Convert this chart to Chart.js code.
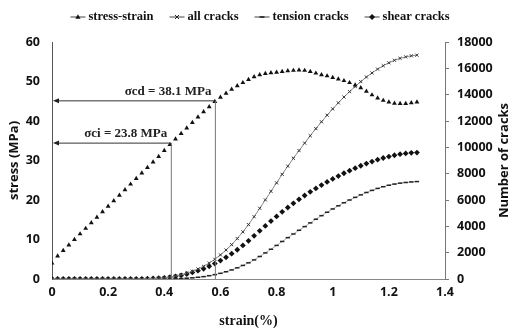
<!DOCTYPE html>
<html>
<head>
<meta charset="utf-8">
<script src="https://cdn.jsdelivr.net/npm/chart.js@4"></script>
<style>
  body { margin: 0; background: #fff; }
</style>
</head>
<body>
<canvas id="crack-chart" width="511" height="330"></canvas>
<script>
// strain (%) sampled every 0.02
var strain = [0, 0.02, 0.04, 0.06, 0.08, 0.10, 0.12, 0.14, 0.16, 0.18,
  0.20, 0.22, 0.24, 0.26, 0.28, 0.30, 0.32, 0.34, 0.36, 0.38,
  0.40, 0.42, 0.44, 0.46, 0.48, 0.50, 0.52, 0.54, 0.56, 0.58,
  0.60, 0.62, 0.64, 0.66, 0.68, 0.70, 0.72, 0.74, 0.76, 0.78,
  0.80, 0.82, 0.84, 0.86, 0.88, 0.90, 0.92, 0.94, 0.96, 0.98,
  1.00, 1.02, 1.04, 1.06, 1.08, 1.10, 1.12, 1.14, 1.16, 1.18,
  1.20, 1.22, 1.24, 1.26, 1.28, 1.30];

// stress (MPa)
var stress = [4.0, 5.8, 7.2, 8.6, 10.0, 11.4, 12.8, 14.2, 15.6, 17.0,
  18.4, 19.8, 21.2, 22.6, 24.0, 25.4, 26.8, 28.2, 29.6, 31.0,
  32.5, 34.0, 35.4, 36.8, 38.2, 39.6, 41.0, 42.3, 43.6, 44.9,
  46.0, 47.0, 48.0, 48.9, 49.7, 50.5, 51.2, 51.7, 52.0, 52.2,
  52.3, 52.5, 52.7, 52.8, 52.9, 52.8, 52.5, 52.1, 51.7, 51.4,
  51.0, 50.6, 50.2, 49.7, 49.1, 48.4, 47.5, 46.6, 45.8, 45.2,
  44.8, 44.5, 44.4, 44.4, 44.6, 44.8];

// number of cracks
var allCracks = [0, 0, 0, 0, 0, 0, 0, 0, 0, 0,
  0, 0, 0, 0, 0, 0, 10, 20, 40, 60,
  90, 150, 220, 320, 440, 590, 760, 960, 1210, 1500,
  1830, 2200, 2610, 3070, 3580, 4130, 4730, 5370, 6010, 6660,
  7300, 7950, 8570, 9170, 9750, 10320, 10880, 11420, 11940, 12440,
  12920, 13380, 13820, 14230, 14620, 14990, 15340, 15650, 15940, 16200,
  16420, 16610, 16760, 16870, 16950, 17000];

var tensionCracks = [0, 0, 0, 0, 0, 0, 0, 0, 0, 0,
  0, 0, 0, 0, 0, 0, 0, 0, 0, 0,
  0, 10, 20, 40, 60, 90, 130, 180, 250, 330,
  430, 550, 690, 850, 1030, 1230, 1450, 1710, 1980, 2260,
  2550, 2850, 3140, 3420, 3700, 3980, 4260, 4540, 4810, 5070,
  5320, 5560, 5790, 6000, 6200, 6390, 6570, 6730, 6880, 7010,
  7120, 7210, 7280, 7330, 7370, 7400];

var shearCracks = [0, 0, 0, 0, 0, 0, 0, 0, 0, 0,
  0, 0, 0, 0, 0, 0, 10, 20, 40, 60,
  90, 140, 200, 280, 380, 500, 630, 780, 960, 1170,
  1400, 1650, 1920, 2220, 2550, 2900, 3280, 3660, 4030, 4400,
  4750, 5100, 5430, 5750, 6050, 6340, 6620, 6880, 7130, 7370,
  7600, 7820, 8030, 8230, 8420, 8600, 8770, 8920, 9060, 9190,
  9300, 9400, 9480, 9540, 9580, 9600];

// crack initiation / crack damage thresholds
var markStrain = [0.425, 0.582];
var markStress = [34.4, 45.1];
var markLabels = ['σci = 23.8 MPa', 'σcd = 38.1 MPa'];

var legendNames = ['stress-strain', 'all cracks', 'tension cracks', 'shear cracks'];

function pts(values) {
  return strain.map(function(s, i) { return { x: s, y: values[i] }; });
}

var tickFont = { family: 'Open Sans', size: 12.5, weight: 'bold' };
var serif = 'bold 13px "Liberation Serif"';

function drawMarker(ctx, style, x, y) {
  ctx.save();
  ctx.fillStyle = '#111';
  ctx.strokeStyle = '#222';
  ctx.lineWidth = 1;
  ctx.beginPath();
  if (style === 'triangle') {
    ctx.moveTo(x, y - 2.8); ctx.lineTo(x + 2.6, y + 1.8); ctx.lineTo(x - 2.6, y + 1.8);
    ctx.closePath(); ctx.fill();
  } else if (style === 'crossRot') {
    ctx.moveTo(x - 2, y - 2); ctx.lineTo(x + 2, y + 2);
    ctx.moveTo(x + 2, y - 2); ctx.lineTo(x - 2, y + 2);
    ctx.stroke();
  } else if (style === 'line') {
    ctx.lineWidth = 1.6;
    ctx.moveTo(x - 2.5, y); ctx.lineTo(x + 2.5, y);
    ctx.stroke();
  } else {
    ctx.moveTo(x, y - 3); ctx.lineTo(x + 3, y); ctx.lineTo(x, y + 3); ctx.lineTo(x - 3, y);
    ctx.closePath(); ctx.fill();
  }
  ctx.restore();
}

var extras = {
  id: 'extras',
  afterDraw: function(chart) {
    var ctx = chart.ctx;
    var xs = chart.scales.x, ys = chart.scales.y;
    var area = chart.chartArea;

    // threshold lines and arrows
    for (var i = 0; i < markStrain.length; i++) {
      var px = xs.getPixelForValue(markStrain[i]);
      var py = ys.getPixelForValue(markStress[i]);
      ctx.save();
      ctx.strokeStyle = '#777';
      ctx.lineWidth = 1;
      ctx.beginPath();
      ctx.moveTo(px, py); ctx.lineTo(px, area.bottom);
      ctx.stroke();
      ctx.strokeStyle = '#333';
      ctx.beginPath();
      ctx.moveTo(px, py); ctx.lineTo(area.left + 4, py);
      ctx.stroke();
      ctx.fillStyle = '#222';
      ctx.beginPath();
      ctx.moveTo(area.left + 1, py);
      ctx.lineTo(area.left + 7, py - 2.5);
      ctx.lineTo(area.left + 7, py + 2.5);
      ctx.closePath();
      ctx.fill();
      ctx.font = serif;
      ctx.textAlign = 'right';
      ctx.textBaseline = 'alphabetic';
      ctx.fillText(markLabels[i], px - 4, py - 6);
      ctx.restore();
    }

    // legend
    var styles = ['triangle', 'crossRot', 'line', 'rectRot'];
    ctx.save();
    ctx.font = 'bold 12.5px "Liberation Serif"';
    var iconW = 15, gap = 3, itemGap = 16;
    var total = 0;
    legendNames.forEach(function(n, k) {
      total += iconW + gap + ctx.measureText(n).width + (k < legendNames.length - 1 ? itemGap : 0);
    });
    var lx = 260 - total / 2, ly = 17;
    legendNames.forEach(function(n, k) {
      ctx.strokeStyle = '#444';
      ctx.lineWidth = 1;
      ctx.beginPath();
      ctx.moveTo(lx, ly); ctx.lineTo(lx + iconW, ly);
      ctx.stroke();
      drawMarker(ctx, styles[k], lx + iconW / 2, ly);
      ctx.fillStyle = '#111';
      ctx.textAlign = 'left';
      ctx.textBaseline = 'middle';
      ctx.fillText(n, lx + iconW + gap, ly);
      lx += iconW + gap + ctx.measureText(n).width + itemGap;
    });
    ctx.restore();

    // right axis title, reading bottom to top
    ctx.save();
    ctx.translate(504, (area.top + area.bottom) / 2);
    ctx.rotate(-Math.PI / 2);
    ctx.font = 'bold 13px "Open Sans"';
    ctx.fillStyle = '#111';
    ctx.textAlign = 'center';
    ctx.textBaseline = 'middle';
    ctx.fillText('Number of cracks', 0, 0);
    ctx.restore();
  }
};

var ctx = document.getElementById('crack-chart').getContext('2d');
var myChart = new Chart(ctx, {
  type: 'scatter',
  data: {
    datasets: [{
      label: 'stress-strain',
      data: pts(stress),
      yAxisID: 'y',
      showLine: false,
      pointStyle: 'triangle',
      pointRadius: 2.8,
      pointBackgroundColor: '#111',
      pointBorderWidth: 0
    }, {
      label: 'all cracks',
      data: pts(allCracks),
      yAxisID: 'y1',
      showLine: true,
      borderColor: '#888',
      borderWidth: 1,
      pointStyle: 'crossRot',
      pointRadius: 2.2,
      pointBorderColor: '#333',
      pointBorderWidth: 1
    }, {
      label: 'tension cracks',
      data: pts(tensionCracks),
      yAxisID: 'y1',
      showLine: true,
      borderColor: '#999',
      borderWidth: 0.8,
      pointStyle: 'line',
      pointRadius: 2.2,
      pointBorderColor: '#222',
      pointBorderWidth: 1.5
    }, {
      label: 'shear cracks',
      data: pts(shearCracks),
      yAxisID: 'y1',
      showLine: false,
      pointStyle: 'rectRot',
      pointRadius: 2.9,
      pointBackgroundColor: '#111',
      pointBorderWidth: 0
    }]
  },
  options: {
    responsive: false,
    animation: false,
    layout: { padding: { top: 42, left: 0, right: 0, bottom: 0 } },
    plugins: {
      legend: { display: false },
      tooltip: { enabled: false }
    },
    scales: {
      x: {
        type: 'linear',
        min: 0,
        max: 1.4,
        afterFit: function(s) { s.height = 51; },
        grid: { display: false, drawTicks: false, tickLength: 0 },
        border: { display: true, color: '#888', width: 1 },
        ticks: {
          stepSize: 0.2,
          padding: 6,
          color: '#111',
          font: tickFont,
          callback: function(v) { return String(Number(v.toFixed(1))); }
        },
        title: {
          display: true,
          text: 'strain(%)',
          color: '#111',
          padding: { top: 0, bottom: 0 },
          font: { family: 'Liberation Serif', size: 14, weight: 'bold' }
        }
      },
      y: {
        position: 'left',
        min: 0,
        max: 60,
        afterFit: function(s) { s.width = 52; },
        grid: { display: false, drawTicks: false, tickLength: 0 },
        border: { display: true, color: '#555', width: 1 },
        ticks: { stepSize: 10, padding: 12, color: '#111', font: tickFont },
        title: {
          display: true,
          text: 'stress (MPa)',
          color: '#111',
          padding: { top: 6, bottom: 0 },
          font: { family: 'Open Sans', size: 13, weight: 'bold' }
        }
      },
      y1: {
        position: 'right',
        min: 0,
        max: 18000,
        afterFit: function(s) { s.width = 66; },
        grid: { display: true, drawOnChartArea: false, drawTicks: true, tickLength: 4, color: '#777' },
        border: { display: true, color: '#777', width: 1 },
        ticks: {
          stepSize: 2000,
          padding: 8,
          color: '#111',
          font: tickFont,
          callback: function(v) { return String(v); }
        }
      }
    }
  },
  plugins: [extras]
});
</script>
</body>
</html>
